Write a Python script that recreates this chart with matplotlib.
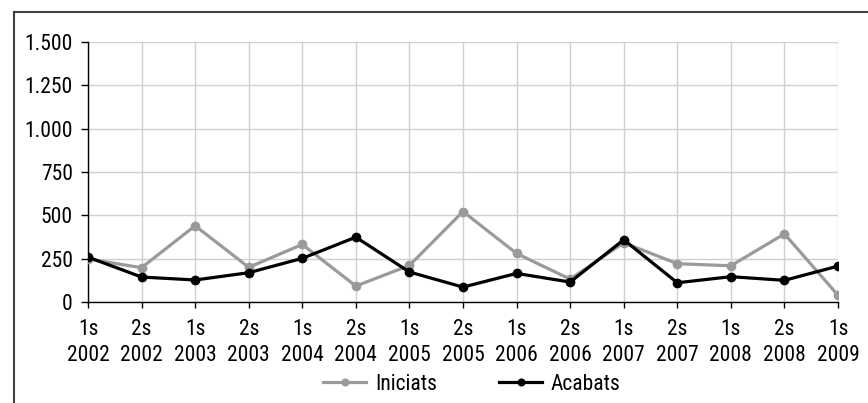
import matplotlib
matplotlib.use("Agg")
import matplotlib.pyplot as plt
from matplotlib.lines import Line2D
from matplotlib.ticker import FuncFormatter
from matplotlib import font_manager as fm

_avail = {f.name for f in fm.fontManager.ttflist}
_fams = [f for f in ['Liberation Sans Narrow', 'Arial Narrow', 'Roboto Condensed', 'Archivo Narrow']
         if f in _avail] + ['Liberation Sans', 'DejaVu Sans']
plt.rcParams['font.family'] = _fams

categories = ["1s\n2002", "2s\n2002", "1s\n2003", "2s\n2003", "1s\n2004", "2s\n2004",
              "1s\n2005", "2s\n2005", "1s\n2006", "2s\n2006", "1s\n2007", "2s\n2007",
              "1s\n2008", "2s\n2008", "1s\n2009"]
iniciats = [248, 198, 440, 200, 332, 92, 211, 522, 280, 132, 342, 221, 209, 393, 39]
acabats = [259, 144, 127, 169, 252, 374, 173, 86, 165, 115, 359, 111, 146, 125, 207]
yticks = [0, 250, 500, 750, 1000, 1250, 1500]

FS = 15.5
W, H = 868, 403
fig = plt.figure(figsize=(W / 100, H / 100), dpi=100)
ax = fig.add_axes([88 / W, 1 - 302 / H, (838 - 88) / W, (302 - 42) / H])

x = list(range(len(categories)))
ax.plot(x, iniciats, color='#9a9a9a', lw=2.3, marker='o', ms=6, label='Iniciats', zorder=3)
ax.plot(x, acabats, color='#000000', lw=2.3, marker='o', ms=6, label='Acabats', zorder=4)

ax.set_xlim(0, len(categories) - 1)
ax.set_ylim(0, 1500)
ax.set_xticks(x)
ax.set_xticklabels(categories, fontsize=FS, linespacing=1.35)
ax.set_yticks(yticks)
ax.yaxis.set_major_formatter(FuncFormatter(lambda v, p: f"{int(v):,}".replace(",", ".")))
ax.tick_params(axis='y', labelsize=FS, length=5, width=1, pad=6, color='#000000')
ax.tick_params(axis='x', length=4, width=1, pad=8, color='#000000')

ax.grid(True, color='#d0d0d0', lw=1)
ax.set_axisbelow(True)
for s in ['top', 'right']:
    ax.spines[s].set_visible(False)
ax.spines['left'].set_color('#000000')
ax.spines['bottom'].set_color('#000000')
ax.spines['left'].set_linewidth(1)
ax.spines['bottom'].set_linewidth(1)

leg = ax.legend(loc='center', bbox_to_anchor=(472 / W, 1 - 384 / H), bbox_transform=fig.transFigure,
                ncol=2, frameon=False, fontsize=FS, handlelength=2.0, columnspacing=2.9,
                handletextpad=0.4, markerscale=0.8)

# outer chart border (cropped on right and bottom)
fig.add_artist(Line2D([14 / W, 14 / W], [0, 1 - 12 / H], transform=fig.transFigure,
                      color='#404040', lw=1.5))
fig.add_artist(Line2D([14 / W, 1], [1 - 12 / H, 1 - 12 / H], transform=fig.transFigure,
                      color='#404040', lw=1.5))

fig.savefig("out.png", dpi=100)
